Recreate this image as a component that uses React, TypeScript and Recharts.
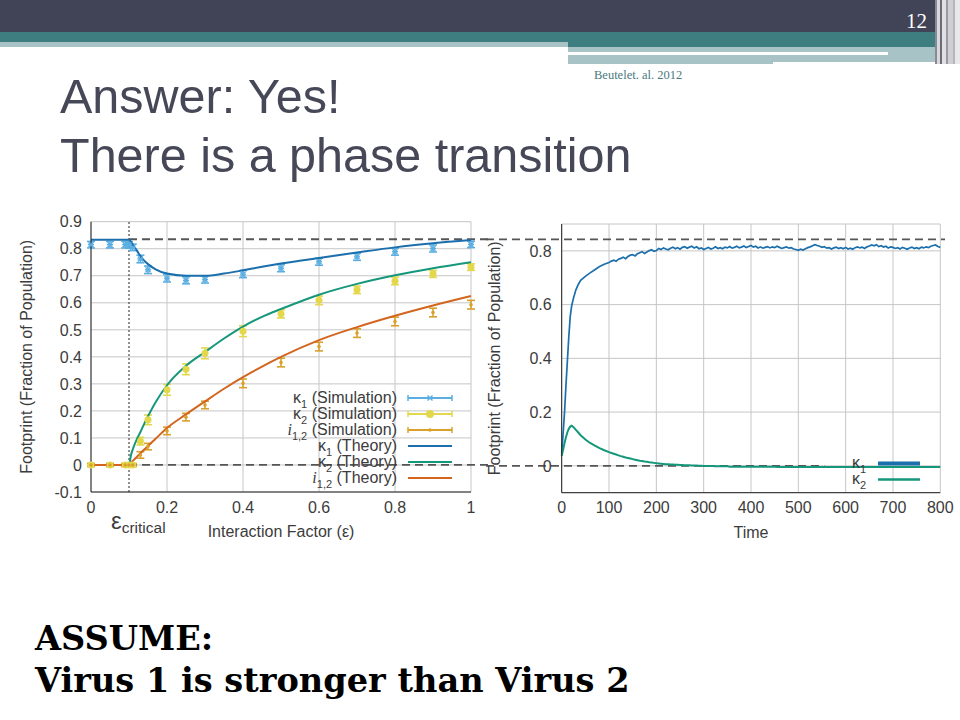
import React from "react";
import {
  ComposedChart,
  LineChart,
  Line,
  Scatter,
  ErrorBar,
  XAxis,
  YAxis,
  CartesianGrid,
  ReferenceLine,
  Legend,
} from "recharts";

// ---------- left panel: footprint vs interaction factor ----------
const epsTicks = [0, 0.2, 0.4, 0.6, 0.8, 1];
const footprintTicks = [-0.1, 0, 0.1, 0.2, 0.3, 0.4, 0.5, 0.6, 0.7, 0.8, 0.9];

const simEps = [0, 0.05, 0.09, 0.1, 0.11, 0.13, 0.15, 0.2, 0.25, 0.3, 0.4, 0.5, 0.6, 0.7, 0.8, 0.9, 1];
const simK1 = [0.815, 0.815, 0.815, 0.814, 0.805, 0.762, 0.722, 0.691, 0.683, 0.686, 0.706, 0.728, 0.752, 0.77, 0.789, 0.801, 0.816];
const simK1Err = [0.012, 0.012, 0.012, 0.012, 0.012, 0.014, 0.014, 0.014, 0.013, 0.013, 0.013, 0.013, 0.013, 0.013, 0.013, 0.013, 0.012];
const simK2 = [0, 0, 0, 0, 0, 0.088, 0.167, 0.278, 0.354, 0.413, 0.495, 0.559, 0.609, 0.648, 0.681, 0.707, 0.732];
const simK2Err = [0.006, 0.006, 0.006, 0.006, 0.006, 0.014, 0.018, 0.02, 0.02, 0.02, 0.02, 0.015, 0.016, 0.014, 0.014, 0.013, 0.012];
const simI12 = [0, 0, 0, 0, 0, 0.037, 0.068, 0.126, 0.177, 0.222, 0.302, 0.379, 0.438, 0.488, 0.531, 0.564, 0.593];
const simI12Err = [0.005, 0.005, 0.005, 0.005, 0.005, 0.012, 0.012, 0.014, 0.014, 0.014, 0.016, 0.016, 0.016, 0.016, 0.016, 0.016, 0.016];

const theoryEps = [0, 0.05, 0.1, 0.105, 0.11, 0.12, 0.13, 0.14, 0.15, 0.17, 0.2, 0.25, 0.3, 0.35, 0.4, 0.45, 0.5, 0.6, 0.7, 0.8, 0.9, 1];
const theoryK1 = [0.833, 0.833, 0.833, 0.826, 0.815, 0.795, 0.773, 0.756, 0.743, 0.724, 0.708, 0.7, 0.7, 0.708, 0.72, 0.733, 0.745, 0.766, 0.786, 0.805, 0.82, 0.832];
const theoryK2 = [0, 0, 0, 0.035, 0.058, 0.093, 0.122, 0.152, 0.18, 0.232, 0.295, 0.367, 0.418, 0.468, 0.512, 0.548, 0.577, 0.63, 0.67, 0.702, 0.728, 0.75];
const theoryI12 = [0, 0, 0, 0.008, 0.015, 0.029, 0.043, 0.057, 0.07, 0.097, 0.137, 0.187, 0.235, 0.282, 0.325, 0.364, 0.4, 0.462, 0.51, 0.552, 0.59, 0.625];

const epsCritical = 0.1;
const guideLeft = [0.835, 0];

// ---------- right panel: footprint over time ----------
const timeTicks = [0, 100, 200, 300, 400, 500, 600, 700, 800];
const timeFootprintTicks = [0, 0.2, 0.4, 0.6, 0.8];

const time = [
  0, 3, 6, 9, 12, 15, 18, 21, 25, 30, 35, 40, 50, 60, 70, 80, 90,
  100, 105, 110, 115, 120, 125, 130, 135, 140, 145, 150, 155, 160, 165, 170, 175, 180, 185, 190, 195, 200,
  205, 210, 215, 220, 225, 230, 235, 240, 245, 250, 255, 260, 265, 270, 275, 280, 285, 290, 295, 300,
  305, 310, 315, 320, 325, 330, 335, 340, 345, 350, 355, 360, 365, 370, 375, 380, 385, 390, 395, 400,
  405, 410, 415, 420, 425, 430, 435, 440, 445, 450, 455, 460, 465, 470, 475, 480, 485, 490, 495, 500,
  505, 510, 515, 520, 525, 530, 535, 540, 545, 550, 555, 560, 565, 570, 575, 580, 585, 590, 595, 600,
  605, 610, 615, 620, 625, 630, 635, 640, 645, 650, 655, 660, 665, 670, 675, 680, 685, 690, 695, 700,
  705, 710, 715, 720, 725, 730, 735, 740, 745, 750, 755, 760, 765, 770, 775, 780, 785, 790, 795, 800,
];
const timeK1 = [
  0.046, 0.12, 0.2, 0.3, 0.39, 0.48, 0.555, 0.595, 0.625, 0.655, 0.675, 0.69, 0.705, 0.718, 0.73, 0.742, 0.75,
  0.757, 0.762, 0.765, 0.761, 0.769, 0.772, 0.776, 0.771, 0.779, 0.784, 0.786, 0.781, 0.789, 0.793, 0.797, 0.79, 0.796, 0.801, 0.804, 0.798, 0.801,
  0.809, 0.805, 0.811, 0.807, 0.804, 0.81, 0.814, 0.808, 0.812, 0.806, 0.813, 0.816, 0.81, 0.814, 0.817, 0.811, 0.815, 0.808, 0.811, 0.805,
  0.809, 0.813, 0.807, 0.81, 0.815, 0.809, 0.812, 0.808, 0.814, 0.811, 0.816, 0.81, 0.813, 0.817, 0.811, 0.814, 0.818, 0.812, 0.816, 0.82,
  0.814, 0.817, 0.811, 0.815, 0.81, 0.813, 0.816, 0.811, 0.815, 0.812, 0.817, 0.813, 0.809, 0.812, 0.815, 0.81, 0.812, 0.807, 0.805, 0.802,
  0.806, 0.803, 0.808, 0.812, 0.815, 0.819, 0.823, 0.82, 0.817, 0.813, 0.816, 0.81, 0.812, 0.807, 0.811, 0.814, 0.809, 0.812, 0.808, 0.813,
  0.807, 0.81, 0.806, 0.812, 0.815, 0.811, 0.814, 0.809, 0.815, 0.818, 0.822, 0.819, 0.823, 0.816, 0.819, 0.814, 0.817, 0.811, 0.815, 0.813,
  0.809, 0.812, 0.807, 0.813, 0.81, 0.806, 0.811, 0.814, 0.809, 0.812, 0.808, 0.814, 0.811, 0.815, 0.812, 0.817, 0.82, 0.822, 0.816, 0.813,
];
const timeK2 = [
  0.037, 0.06, 0.085, 0.106, 0.125, 0.138, 0.146, 0.149, 0.144, 0.134, 0.124, 0.114, 0.098, 0.085, 0.075, 0.066, 0.058,
  0.051, 0.048, 0.045, 0.042, 0.039, 0.036, 0.034, 0.031, 0.029, 0.027, 0.025, 0.023, 0.021, 0.019, 0.018, 0.016, 0.015, 0.013, 0.012, 0.011, 0.01,
  0.009, 0.008, 0.007, 0.006, 0.006, 0.005, 0.005, 0.004, 0.004, 0.003, 0.003, 0.002, 0.002, 0.002, 0.001, 0.001, 0.001, 0, 0, -0.001,
  -0.001, -0.001, -0.001, -0.001, -0.002, -0.002, -0.002, -0.002, -0.002, -0.002, -0.003, -0.003, -0.003, -0.003, -0.003, -0.003, -0.003, -0.003, -0.003, -0.003,
  -0.003, -0.003, -0.003, -0.003, -0.003, -0.003, -0.003, -0.003, -0.003, -0.003, -0.004, -0.004, -0.004, -0.004, -0.004, -0.004, -0.004, -0.004, -0.004, -0.004,
  -0.004, -0.004, -0.004, -0.004, -0.004, -0.004, -0.004, -0.004, -0.004, -0.004, -0.004, -0.004, -0.004, -0.004, -0.004, -0.004, -0.004, -0.004, -0.004, -0.004,
  -0.004, -0.004, -0.004, -0.004, -0.004, -0.004, -0.004, -0.004, -0.004, -0.004, -0.004, -0.004, -0.004, -0.004, -0.004, -0.004, -0.004, -0.004, -0.004, -0.004,
  -0.004, -0.004, -0.004, -0.004, -0.004, -0.004, -0.004, -0.004, -0.004, -0.004, -0.004, -0.004, -0.004, -0.004, -0.004, -0.004, -0.004, -0.004, -0.004, -0.004,
];
const guideRight = [0.843, 0];

// ---------- tables for recharts ----------
const simTable = simEps.map((x, i) => ({
  x,
  k1: simK1[i],
  k1Err: simK1Err[i],
  k2: simK2[i],
  k2Err: simK2Err[i],
  i12: simI12[i],
  i12Err: simI12Err[i],
}));
const theoryTable = theoryEps.map((x, i) => ({ x, k1: theoryK1[i], k2: theoryK2[i], i12: theoryI12[i] }));
const timeTable = time.map((t, i) => ({ t, k1: timeK1[i], k2: timeK2[i] }));

const COLORS = {
  simK1: "#5aaee2",
  simK2: "#e3d84c",
  simI12: "#d9a12c",
  k1: "#1b6fad",
  k2: "#14977a",
  i12: "#d2661f",
};

const FONT = "'Liberation Sans', Arial, sans-serif";
const TEXT = "#3c3c3c";
const GRID = "#c6c6c6";
const AXIS = "#222";
const DASH = "#555";

const leftOrder = ["κ1 (Simulation)", "κ2 (Simulation)", "i1,2 (Simulation)", "κ1 (Theory)", "κ2 (Theory)", "i1,2 (Theory)"];

// ---------- small render helpers ----------
const SeriesName = ({ name }: { name: string }) => {
  const m = /^(κ|i)([\d,]+)(.*)$/.exec(name);
  if (!m) return <>{name}</>;
  return (
    <>
      <span style={m[1] === "i" ? { fontStyle: "italic", fontFamily: "'Liberation Serif', serif" } : undefined}>{m[1]}</span>
      <span style={{ fontSize: 11, position: "relative", top: 5 }}>{m[2]}</span>
      {m[3]}
    </>
  );
};

const cross = (color: string) => (props: any) => {
  const { cx, cy } = props;
  if (cx == null || cy == null) return <g />;
  return (
    <g stroke={color} strokeWidth={1.4}>
      <line x1={cx - 2.5} y1={cy - 2.5} x2={cx + 2.5} y2={cy + 2.5} />
      <line x1={cx - 2.5} y1={cy + 2.5} x2={cx + 2.5} y2={cy - 2.5} />
      <line x1={cx - 3} y1={cy} x2={cx + 3} y2={cy} />
    </g>
  );
};
const dot = (color: string, r: number) => (props: any) => {
  const { cx, cy } = props;
  if (cx == null || cy == null) return <g />;
  return <circle cx={cx} cy={cy} r={r} fill={color} />;
};

const markerFor = (name: string, color: string) => {
  if (!name.includes("Simulation")) return null;
  if (name.startsWith("κ1")) return cross(color)({ cx: 23, cy: 8 });
  if (name.startsWith("κ2")) return <circle cx={23} cy={8} r={4} fill={color} />;
  return <circle cx={23} cy={8} r={1.8} fill={color} />;
};

const LeftLegend = (props: any) => {
  const items = [...(props.payload || [])].sort(
    (a: any, b: any) => leftOrder.indexOf(a.value) - leftOrder.indexOf(b.value)
  );
  return (
    <div style={{ fontFamily: FONT, fontSize: 16, color: TEXT }}>
      {items.map((it: any) => {
        const sim = String(it.value).includes("Simulation");
        return (
          <div key={it.value} style={{ display: "flex", alignItems: "center", height: 16, lineHeight: "16px" }}>
            <span style={{ width: 150, textAlign: "right", whiteSpace: "nowrap" }}>
              <SeriesName name={it.value} />
            </span>
            <svg width={46} height={16} style={{ marginLeft: 10 }}>
              <line x1={1} y1={8} x2={45} y2={8} stroke={it.color} strokeWidth={2} />
              {sim && <line x1={1} y1={5} x2={1} y2={11} stroke={it.color} strokeWidth={1.5} />}
              {sim && <line x1={45} y1={5} x2={45} y2={11} stroke={it.color} strokeWidth={1.5} />}
              {markerFor(String(it.value), it.color)}
            </svg>
          </div>
        );
      })}
    </div>
  );
};

const RightLegend = (props: any) => (
  <div style={{ fontFamily: FONT, fontSize: 16, color: TEXT }}>
    {(props.payload || []).map((it: any) => (
      <div key={it.value} style={{ display: "flex", alignItems: "center", height: 15.5, lineHeight: "15.5px" }}>
        <span style={{ width: 26, textAlign: "right" }}>
          <SeriesName name={it.value} />
        </span>
        <svg width={44} height={15} style={{ marginLeft: 12 }}>
          <line x1={0} y1={7.5} x2={42} y2={7.5} stroke={it.color} strokeWidth={it.dataKey === "k1" ? 4 : 2.5} />
        </svg>
      </div>
    ))}
  </div>
);

const yTitle = (text: string, shift: number) => (props: any) => {
  const vb = props.viewBox || {};
  const x = vb.x + shift;
  const y = vb.y + vb.height / 2;
  return (
    <text x={x} y={y} transform={`rotate(-90 ${x} ${y})`} textAnchor="middle" dominantBaseline="central"
      fontFamily={FONT} fontSize={16} fill={TEXT}>
      {text}
    </text>
  );
};
const xTitle = (text: string, shift: number) => (props: any) => {
  const vb = props.viewBox || {};
  return (
    <text x={vb.x + vb.width / 2} y={vb.y + shift} textAnchor="middle" fontFamily={FONT} fontSize={16} fill={TEXT}>
      {text}
    </text>
  );
};
const epsLabel = (props: any) => {
  const vb = props.viewBox || {};
  return (
    <text x={vb.x - 18} y={vb.y + vb.height + 37} fontFamily={FONT} fill={TEXT}>
      <tspan fontSize={24}>ε</tspan>
      <tspan fontSize={15.5} dy={4}>critical</tspan>
    </text>
  );
};

const tickStyle = { fontFamily: FONT, fontSize: 16, fill: TEXT };

const LeftPanel = () => (
  <ComposedChart width={490} height={352} margin={{ top: 21.7, right: 19, bottom: 10, left: 0 }}>
    <CartesianGrid stroke={GRID} strokeWidth={1} />
    <XAxis
      type="number"
      dataKey="x"
      domain={[0, 1]}
      ticks={epsTicks}
      tickFormatter={(v) => String(v)}
      tick={tickStyle}
      tickLine={false}
      tickSize={0}
      tickMargin={10}
      height={50}
      axisLine={{ stroke: AXIS }}
      label={xTitle("Interaction Factor (ε)", 45)}
    />
    <YAxis
      type="number"
      domain={[-0.1, 0.9]}
      ticks={footprintTicks}
      tickFormatter={(v) => String(v)}
      tick={tickStyle}
      tickLine={false}
      tickSize={0}
      tickMargin={9}
      width={91}
      axisLine={{ stroke: AXIS }}
      label={yTitle("Footprint (Fraction of Population)", 27)}
    />
    <ReferenceLine x={epsCritical} stroke={AXIS} strokeDasharray="2 2" strokeWidth={1} label={epsLabel} />
    {guideLeft.map((g) => (
      <ReferenceLine
        key={g}
        segment={[{ x: epsCritical, y: g }, { x: 1.05, y: g }]}
        ifOverflow="visible"
        stroke={DASH}
        strokeWidth={1.8}
        strokeDasharray="8 5"
      />
    ))}
    <Scatter name="κ1 (Simulation)" data={simTable} dataKey="k1" fill={COLORS.simK1} shape={cross(COLORS.simK1)} isAnimationActive={false}>
      <ErrorBar dataKey="k1Err" direction="y" width={4} stroke={COLORS.simK1} strokeWidth={1.6} />
    </Scatter>
    <Scatter name="κ2 (Simulation)" data={simTable} dataKey="k2" fill={COLORS.simK2} shape={dot(COLORS.simK2, 3.5)} isAnimationActive={false}>
      <ErrorBar dataKey="k2Err" direction="y" width={4} stroke={COLORS.simK2} strokeWidth={1.6} />
    </Scatter>
    <Scatter name="i1,2 (Simulation)" data={simTable} dataKey="i12" fill={COLORS.simI12} shape={dot(COLORS.simI12, 1.8)} isAnimationActive={false}>
      <ErrorBar dataKey="i12Err" direction="y" width={4} stroke={COLORS.simI12} strokeWidth={1.6} />
    </Scatter>
    <Line name="κ1 (Theory)" data={theoryTable} dataKey="k1" type="monotone" stroke={COLORS.k1} strokeWidth={2} dot={false} isAnimationActive={false} />
    <Line name="κ2 (Theory)" data={theoryTable} dataKey="k2" type="monotone" stroke={COLORS.k2} strokeWidth={2} dot={false} isAnimationActive={false} />
    <Line name="i1,2 (Theory)" data={theoryTable} dataKey="i12" type="monotone" stroke={COLORS.i12} strokeWidth={2} dot={false} isAnimationActive={false} />
    <Legend
      layout="vertical"
      align="center"
      verticalAlign="middle"
      content={LeftLegend}
      wrapperStyle={{ left: 247, top: 190, width: 220 }}
    />
  </ComposedChart>
);

const RightPanel = () => (
  <LineChart width={474} height={352} data={timeTable} margin={{ top: 24, right: 19.7, bottom: 9.3, left: 0 }}>
    <CartesianGrid stroke={GRID} strokeWidth={1} />
    <XAxis
      type="number"
      dataKey="t"
      domain={[0, 800]}
      ticks={timeTicks}
      tick={tickStyle}
      tickLine={false}
      tickSize={0}
      tickMargin={9}
      height={50}
      axisLine={{ stroke: AXIS }}
      label={xTitle("Time", 45.5)}
    />
    <YAxis
      type="number"
      domain={[-0.1, 0.9]}
      ticks={timeFootprintTicks}
      tickFormatter={(v) => String(v)}
      tick={tickStyle}
      tickLine={false}
      tickSize={0}
      tickMargin={10}
      width={75.7}
      axisLine={{ stroke: AXIS }}
      label={yTitle("Footprint (Fraction of Population)", 9)}
    />
    <ReferenceLine
      segment={[{ x: -160, y: guideRight[0] }, { x: 810, y: guideRight[0] }]}
      ifOverflow="visible"
      stroke={DASH}
      strokeWidth={1.8}
      strokeDasharray="8 5"
    />
    <ReferenceLine
      segment={[{ x: -160, y: guideRight[1] }, { x: 555, y: guideRight[1] }]}
      ifOverflow="visible"
      stroke={DASH}
      strokeWidth={1.8}
      strokeDasharray="8 5"
    />
    <Line name="κ1" dataKey="k1" type="linear" stroke={COLORS.k1} strokeWidth={1.7} dot={false} isAnimationActive={false} />
    <Line name="κ2" dataKey="k2" type="linear" stroke={COLORS.k2} strokeWidth={2} dot={false} isAnimationActive={false} />
    <Legend
      layout="vertical"
      align="center"
      verticalAlign="middle"
      content={RightLegend}
      wrapperStyle={{ left: 354, top: 256, width: 90 }}
    />
  </LineChart>
);

const Header = () => (
  <>
    <div style={{ position: "absolute", left: 0, top: 0, width: 960, height: 32, background: "#414357" }} />
    <div style={{ position: "absolute", left: 0, top: 32, width: 935, height: 10, background: "#3e7e81" }} />
    <div style={{ position: "absolute", left: 0, top: 42, width: 568, height: 5, background: "#a7c3c6" }} />
    <div style={{ position: "absolute", left: 568, top: 42, width: 367, height: 5, background: "#3e7e81" }} />
    <div style={{ position: "absolute", left: 568, top: 47, width: 375, height: 15, background: "#a7c3c6" }} />
    <div style={{ position: "absolute", left: 568, top: 62, width: 205, height: 2, background: "#a7c3c6" }} />
    <div style={{ position: "absolute", left: 568, top: 52, width: 320, height: 2.5, background: "#ffffff" }} />
    <div
      style={{
        position: "absolute",
        left: 935,
        top: 0,
        width: 25,
        height: 64,
        background:
          "linear-gradient(90deg, #8a8a95 0 2px, #d8d8dc 2px 5px, #6d6d78 5px 7px, #e0e0e4 7px 11px, #9a9aa3 11px 13px, #cfcfd4 13px 18px, #b5b5bd 18px 20px, #e8e8ea 20px 25px)",
      }}
    />
  </>
);

export default function App() {
  return (
    <div style={{ position: "absolute", left: 0, top: 0, width: 960, height: 720, background: "#fff", overflow: "hidden" }}>
      <Header />
      <svg width={960} height={720} style={{ position: "absolute", left: 0, top: 0 }}>
        <text x={906} y={28} fontFamily="'Liberation Serif', serif" fontSize={21} fill="#fff">12</text>
        <text x={594} y={79} fontFamily="'Liberation Serif', serif" fontSize={12.5} fill="#4a7a80">Beutelet. al. 2012</text>
        <text x={60} y={113} fontFamily={FONT} fontSize={48.5} fill="#464858">Answer: Yes!</text>
        <text x={60} y={172} fontFamily={FONT} fontSize={48.5} fill="#464858">There is a phase transition</text>
        <text x={35} y={650} fontFamily="'DejaVu Serif', serif" fontWeight="bold" fontSize={33.6} fill="#000">ASSUME:</text>
        <text x={35} y={692} fontFamily="'DejaVu Serif', serif" fontWeight="bold" fontSize={33.6} fill="#000">Virus 1 is stronger than Virus 2</text>
      </svg>
      <div style={{ position: "absolute", left: 0, top: 200 }}>
        <LeftPanel />
      </div>
      <div style={{ position: "absolute", left: 486, top: 200 }}>
        <RightPanel />
      </div>
    </div>
  );
}
